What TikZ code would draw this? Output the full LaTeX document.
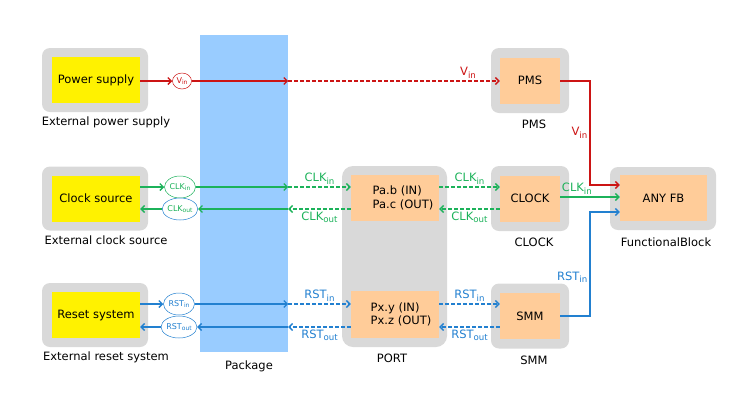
\documentclass[tikz,border=0pt]{standalone}
\usepackage{fontspec}
\setmainfont{DejaVu Sans}
\usetikzlibrary{arrows.meta,shapes.geometric}

\definecolor{boxgray}{HTML}{D9D9D9}
\definecolor{pkgblue}{HTML}{99CCFF}
\definecolor{peach}{HTML}{FFCC99}
\definecolor{pwrred}{HTML}{CC1414}
\definecolor{clkgreen}{HTML}{1CB25A}
\definecolor{rstblue}{HTML}{2280D0}

\newcommand\subtx[1]{\raisebox{-0.4ex}{\scalebox{0.75}{#1}}}

\tikzset{
  shell/.style={fill=boxgray, rounded corners=8pt, inner sep=0pt},
  ext/.style={fill=yellow, inner sep=0pt, minimum width=88pt, minimum height=46pt},
  blk/.style={fill=peach, inner sep=0pt, minimum width=60pt, minimum height=46pt},
  sig/.style={ellipse, draw, line width=0.5pt, fill=white, inner sep=0pt,
    minimum width=31pt, minimum height=22pt, font=\fontsize{8}{9}\selectfont},
  wire/.style={line width=1.3pt, -{Straight Barb[length=3.5pt,width=7pt]}},
  dwire/.style={wire, dash pattern=on 4pt off 2pt},
  lbl/.style={inner sep=2pt},
}

\begin{document}
\begin{tikzpicture}[x=1pt, y=-1pt, every node/.style={font=\fontsize{11.5}{13.5}\selectfont}]
  \useasboundingbox (0,0) rectangle (741,416);
  % package
  \node[fill=pkgblue, inner sep=0pt, minimum width=88pt, minimum height=317pt] (pkg) at (244,193.5) {};
  \node (pkgL) at (249,366) {Package};
  % external sources
  \foreach \nm/\y/\txt/\cpt in {pwr/80/Power supply/External power supply,
      clk/198.5/Clock source/External clock source,
      rst/315/Reset system/External reset system} {
    \node[shell, minimum width=106pt, minimum height=64pt] (\nm G) at (95,\y) {};
    \node[ext] (\nm) at (96,\y) {\txt};
    \node (\nm L) at (106,\y+42) {\cpt};
  }
  % PMS, CLOCK, SMM
  \foreach \nm/\y/\cpt in {pms/80.5/PMS, clock/198.5/CLOCK, smm/316/SMM} {
    \node[shell, minimum width=78pt, minimum height=65pt] (\nm G) at (530,\y) {};
    \node[blk] (\nm) at (530,\y) {\cpt};
    \node (\nm L) at (534,\y+44) {\cpt};
  }
  % port
  \node[shell, rounded corners=11pt, minimum width=105pt, minimum height=181pt] (portG) at (394.5,256.5) {};
  \node[blk, minimum width=88pt, align=left] (pa) at (395,198) {\hspace*{16pt}Pa.b (IN)\\\hspace*{16pt}Pa.c (OUT)};
  \node[blk, minimum width=88pt, minimum height=47pt, align=left] (px) at (395,314.5) {\hspace*{12pt}Px.y (IN)\\\hspace*{12pt}Px.z (OUT)};
  \node (portL) at (392,358) {PORT};
  % functional block
  \node[shell, minimum width=106pt, minimum height=63pt] (fbG) at (663,198.5) {};
  \node[blk, minimum width=87pt] (fb) at (663.5,198) {ANY FB};
  \node (fbL) at (666,242) {FunctionalBlock};
  \coordinate (fbV) at ([yshift=13pt]fb.west);
  \coordinate (fbC) at ([yshift=1pt]fb.west);
  \coordinate (fbR) at ([yshift=-14pt]fb.west);
  \coordinate (bus) at (590,0);

  % signal tags
  \node[sig, draw=pwrred, text=pwrred, minimum width=19pt, minimum height=16pt] (vin) at (182,81) {V\subtx{in}};
  \node[sig, draw=clkgreen, text=clkgreen] (cin) at (180,187) {CLK\subtx{in}};
  \node[sig, draw=rstblue, text=clkgreen] (cout) at (180,209) {CLK\subtx{out}};
  \node[sig, draw=rstblue, text=rstblue] (rin) at (179,304) {RST\subtx{in}};
  \node[sig, draw=rstblue, text=rstblue] (rout) at (179,327) {RST\subtx{out}};

  % power
  \draw[wire, pwrred] (pwr.east |- vin) -- (vin);
  \draw[wire, pwrred] (vin) -- (pkg.east |- vin);
  \draw[dwire, pwrred] (pkg.east |- vin) -- node[lbl, above, pos=.85] {V\subtx{in}} (pms.west |- vin);
  \draw[wire, pwrred] (pms.east |- vin) -- (bus |- vin)
    -- node[lbl, left] {V\subtx{in}} (bus |- fbV) -- (fbV);

  % clock
  \draw[wire, clkgreen] (clk.east |- cin) -- (cin);
  \draw[wire, clkgreen] (cin) -- (pkg.east |- cin);
  \draw[dwire, clkgreen] (pkg.east |- cin) -- node[lbl, above] {CLK\subtx{in}} (pa.west |- cin);
  \draw[dwire, clkgreen] (pa.east |- cin) -- node[lbl, above] {CLK\subtx{in}} (clock.west |- cin);
  \draw[dwire, clkgreen] (clock.west |- cout) -- node[lbl, below] {CLK\subtx{out}} (pa.east |- cout);
  \draw[dwire, clkgreen] (pa.west |- cout) -- node[lbl, below] {CLK\subtx{out}} (pkg.east |- cout);
  \draw[wire, clkgreen] (pkg.east |- cout) -- (cout);
  \draw[wire, clkgreen] (cout) -- (clk.east |- cout);
  \draw[wire, clkgreen] (clock.east |- fbC) -- node[lbl, above, pos=.28] {CLK\subtx{in}} (fbC);

  % reset
  \draw[wire, rstblue] (rst.east |- rin) -- (rin);
  \draw[wire, rstblue] (rin) -- (pkg.east |- rin);
  \draw[dwire, rstblue] (pkg.east |- rin) -- node[lbl, above] {RST\subtx{in}} (px.west |- rin);
  \draw[dwire, rstblue] (px.east |- rin) -- node[lbl, above] {RST\subtx{in}} (smm.west |- rin);
  \draw[dwire, rstblue] (smm.west |- rout) -- node[lbl, below] {RST\subtx{out}} (px.east |- rout);
  \draw[dwire, rstblue] (px.west |- rout) -- node[lbl, below] {RST\subtx{out}} (pkg.east |- rout);
  \draw[wire, rstblue] (pkg.east |- rout) -- (rout);
  \draw[wire, rstblue] (rout) -- (rst.east |- rout);
  \draw[wire, rstblue] (smm.east) -- (bus |- smm.east)
    -- node[lbl, left, pos=.375] {RST\subtx{in}} (bus |- fbR) -- (fbR);
\end{tikzpicture}
\end{document}
